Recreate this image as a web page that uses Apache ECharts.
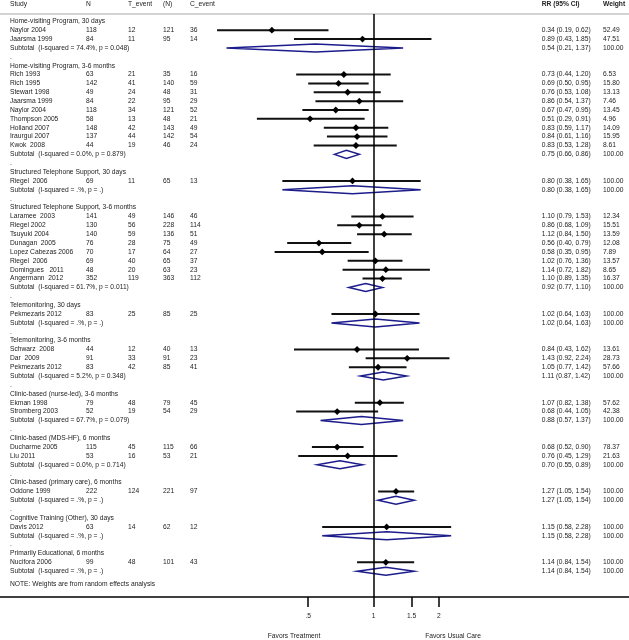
<!DOCTYPE html>
<html>
<head>
<meta charset="utf-8">
<script src="https://cdn.jsdelivr.net/npm/echarts@6/dist/echarts.min.js"></script>
<style>
  html, body { margin: 0; padding: 0; background: #fff; }
  #chart { width: 629px; height: 640px; }
</style>
</head>
<body>
<div id="chart"></div>
<script>
// ---- data ----
const groupNames = [
  'Home-visiting Program, 30 days',
  'Home-visiting Program, 3-6 months',
  'Structured Telephone Support, 30 days',
  'Structured Telephone Support, 3-6 months',
  'Telemonitoring, 30 days',
  'Telemonitoring, 3-6 months',
  'Clinic-based (nurse-led), 3-6 months',
  'Clinic-based (MDS-HF), 6 months',
  'Clinic-based (primary care), 6 months',
  'Cognitive Training (Other), 30 days',
  'Primarily Educational, 6 months'
];
const groupSize = [2, 9, 1, 8, 1, 3, 2, 2, 1, 1, 1];

const studyNames = [
  'Naylor 2004', 'Jaarsma 1999',
  'Rich 1993', 'Rich 1995', 'Stewart 1998', 'Jaarsma 1999', 'Naylor 2004', 'Thompson 2005', 'Holland 2007', 'Iraurgui 2007', 'Kwok  2008',
  'Riegel  2006',
  'Laramee  2003', 'Riegel 2002', 'Tsuyuki 2004', 'Dunagan  2005', 'Lopez Cabezas 2006', 'Riegel  2006', 'Domingues   2011', 'Angermann  2012',
  'Pekmezaris 2012',
  'Schwarz  2008', 'Dar  2009', 'Pekmezaris 2012',
  'Ekman 1998', 'Stromberg 2003',
  'Ducharme 2005', 'Liu 2011',
  'Oddone 1999',
  'Davis 2012',
  'Nucifora 2006'
];
const treatN      = [118, 84, 63, 142, 49, 84, 118, 58, 148, 137, 44, 69, 141, 130, 140, 76, 70, 69, 48, 352, 83, 44, 91, 83, 79, 52, 115, 53, 222, 63, 99];
const treatEvents = [12, 11, 21, 41, 24, 22, 34, 13, 42, 44, 19, 11, 49, 56, 59, 28, 17, 40, 20, 119, 25, 12, 33, 42, 48, 19, 45, 16, 124, 14, 48];
const ctrlN       = [121, 95, 35, 140, 48, 95, 121, 48, 143, 142, 46, 65, 146, 228, 136, 75, 64, 65, 63, 363, 85, 40, 91, 85, 79, 54, 115, 53, 221, 62, 101];
const ctrlEvents  = [36, 14, 16, 59, 31, 29, 52, 21, 49, 54, 24, 13, 46, 114, 51, 49, 27, 37, 23, 112, 25, 13, 23, 41, 45, 29, 66, 21, 97, 12, 43];
const rr     = [0.34, 0.89, 0.73, 0.69, 0.76, 0.86, 0.67, 0.51, 0.83, 0.84, 0.83, 0.80, 1.10, 0.86, 1.12, 0.56, 0.58, 1.02, 1.14, 1.10, 1.02, 0.84, 1.43, 1.05, 1.07, 0.68, 0.68, 0.76, 1.27, 1.15, 1.14];
const rrLow  = [0.19, 0.43, 0.44, 0.50, 0.53, 0.54, 0.47, 0.29, 0.59, 0.61, 0.53, 0.38, 0.79, 0.68, 0.84, 0.40, 0.35, 0.76, 0.72, 0.89, 0.64, 0.43, 0.92, 0.77, 0.82, 0.44, 0.52, 0.45, 1.05, 0.58, 0.84];
const rrHigh = [0.62, 1.85, 1.20, 0.95, 1.08, 1.37, 0.95, 0.91, 1.17, 1.16, 1.28, 1.65, 1.53, 1.09, 1.50, 0.79, 0.95, 1.36, 1.82, 1.35, 1.63, 1.62, 2.24, 1.42, 1.38, 1.05, 0.90, 1.29, 1.54, 2.28, 1.54];
const weights = [52.49, 47.51, 6.53, 15.80, 13.13, 7.46, 13.45, 4.96, 14.09, 15.95, 8.61, 100, 12.34, 15.51, 13.59, 12.08, 7.89, 13.57, 8.65, 16.37, 100, 13.61, 28.73, 57.66, 57.62, 42.38, 78.37, 21.63, 100, 100, 100];

// subtotals, one per group
const subISq  = ['74.4', '0.0', '.', '61.7', '.', '5.2', '67.7', '0.0', '.', '.', '.'];
const subP    = ['0.048', '0.879', '.', '0.011', '.', '0.348', '0.079', '0.714', '.', '.', '.'];
const subRR   = [0.54, 0.75, 0.80, 0.92, 1.02, 1.11, 0.88, 0.70, 1.27, 1.15, 1.14];
const subLow  = [0.21, 0.66, 0.38, 0.77, 0.64, 0.87, 0.57, 0.55, 1.05, 0.58, 0.84];
const subHigh = [1.37, 0.86, 1.65, 1.10, 1.63, 1.42, 1.37, 0.89, 1.54, 2.28, 1.54];

const headerLabels = ['Study', 'N', 'T_event', '(N)', 'C_event', 'RR (95% CI)', 'Weight'];
const tickValues = [0.5, 1, 1.5, 2];
const tickLabels = ['.5', '1', '1.5', '2'];
const noteText = 'NOTE: Weights are from random effects analysis';

// ---- layout ----
const W = 629;
const rowTop = 21.3, rowStep = 8.87;   // y of first row, row pitch
const gridTop = 14, axisY = 597;
const refX = 373.5, pxPerLn = 94.2;    // pixel of RR=1, pixels per ln unit
const colX = [10, 86, 128, 163, 190, 541.7, 603];
const FONT = '6.7px "Liberation Sans", Arial, sans-serif';
const TXT = '#222';
const NAVY = '#1c1c8c';

// build the table rows
const rows = [];
let si = 0;
groupNames.forEach((g, gi) => {
  if (gi > 0) rows.push({ kind: 'gap' });
  rows.push({ kind: 'group', gi });
  for (let k = 0; k < groupSize[gi]; k++) rows.push({ kind: 'study', i: si++ });
  rows.push({ kind: 'sub', gi });
});
const notePos = rows.length + 1.5;

const f2 = v => v.toFixed(2);
function rowCells(r) {
  if (r.kind === 'gap') return ['.'];
  if (r.kind === 'group') return [groupNames[r.gi]];
  if (r.kind === 'study') {
    const i = r.i;
    return [studyNames[i], String(treatN[i]), String(treatEvents[i]), String(ctrlN[i]), String(ctrlEvents[i]),
      f2(rr[i]) + ' (' + f2(rrLow[i]) + ', ' + f2(rrHigh[i]) + ')', f2(weights[i])];
  }
  const g = r.gi;
  return ['Subtotal  (I-squared = ' + subISq[g] + '%, p = ' + subP[g] + ')', '', '', '', '',
    f2(subRR[g]) + ' (' + f2(subLow[g]) + ', ' + f2(subHigh[g]) + ')', '100.00'];
}

const textData = rows.map((r, k) => [0, k + 1, k]);
textData.push([0, notePos, -1]);

const studyData = [];
const subData = [];
rows.forEach((r, k) => {
  if (r.kind === 'study') studyData.push([rr[r.i], k + 1, rrLow[r.i], rrHigh[r.i]]);
  if (r.kind === 'sub') subData.push([subRR[r.gi], k + 1, subLow[r.gi], subHigh[r.gi]]);
});

const chart = echarts.init(document.getElementById('chart'), null, { renderer: 'canvas' });

const option = {
  animation: false,
  grid: { left: 0, right: 0, top: gridTop, bottom: 640 - axisY },
  xAxis: [
    {
      type: 'log',
      min: Math.exp((0 - refX) / pxPerLn),
      max: Math.exp((W - refX) / pxPerLn),
      splitLine: { show: false },
      minorTick: { show: false },
      axisLine: { show: true, lineStyle: { color: '#000', width: 1.5 } },
      axisTick: { show: true, length: 10, lineStyle: { color: '#000', width: 1.5 }, customValues: tickValues },
      axisLabel: {
        customValues: tickValues,
        margin: 16,
        color: TXT,
        fontSize: 6.7,
        fontFamily: '"Liberation Sans", Arial, sans-serif',
        formatter: v => {
          let best = 0;
          tickValues.forEach((t, j) => { if (Math.abs(t - v) < Math.abs(tickValues[best] - v)) best = j; });
          return tickLabels[best];
        }
      }
    },
    { type: 'value', min: 0, max: W, show: false }
  ],
  yAxis: {
    type: 'value',
    inverse: true,
    min: 1 + (gridTop - rowTop) / rowStep,
    max: 1 + (axisY - rowTop) / rowStep,
    show: false
  },
  graphic: [
    { type: 'line', shape: { x1: 0, y1: gridTop, x2: W, y2: gridTop }, style: { stroke: '#c4c4c4', lineWidth: 1.5 }, z: 1 },
    ...headerLabels.map((t, j) => ({
      type: 'text', x: colX[j], y: 4.5,
      style: { text: t, font: (j >= 5 ? 'bold ' : '') + FONT, fill: TXT, verticalAlign: 'middle' }
    })),
    { type: 'text', x: 294, y: 636.5, style: { text: 'Favors Treatment', font: FONT, fill: TXT, align: 'center', verticalAlign: 'middle' } },
    { type: 'text', x: 453, y: 636.5, style: { text: 'Favors Usual Care', font: FONT, fill: TXT, align: 'center', verticalAlign: 'middle' } }
  ],
  series: [
    {
      // table text
      type: 'custom',
      xAxisIndex: 1,
      yAxisIndex: 0,
      silent: true,
      clip: false,
      data: textData,
      renderItem: (params, api) => {
        const k = api.value(2);
        const cells = k < 0 ? [noteText] : rowCells(rows[k]);
        const y = api.coord([0, api.value(1)])[1];
        return {
          type: 'group',
          children: cells.map((t, j) => ({
            type: 'text',
            style: { text: t, x: api.coord([colX[j], 0])[0], y: y, font: FONT, fill: TXT, verticalAlign: 'middle' }
          }))
        };
      }
    },
    {
      // individual studies: CI line + diamond marker
      type: 'custom',
      xAxisIndex: 0,
      yAxisIndex: 0,
      silent: true,
      clip: false,
      z: 3,
      encode: { x: [0, 2, 3], y: 1 },
      data: studyData,
      renderItem: (params, api) => {
        const c = api.coord([api.value(0), api.value(1)]);
        const a = api.coord([api.value(2), api.value(1)]);
        const b = api.coord([api.value(3), api.value(1)]);
        const r = 3.4;
        return {
          type: 'group',
          children: [
            { type: 'line', shape: { x1: a[0], y1: a[1], x2: b[0], y2: b[1] }, style: { stroke: '#111', lineWidth: 2 } },
            { type: 'polygon', shape: { points: [[c[0] - r, c[1]], [c[0], c[1] - r], [c[0] + r, c[1]], [c[0], c[1] + r]] }, style: { fill: '#000' } }
          ]
        };
      }
    },
    {
      // subtotal diamonds
      type: 'custom',
      xAxisIndex: 0,
      yAxisIndex: 0,
      silent: true,
      clip: false,
      z: 3,
      encode: { x: [0, 2, 3], y: 1 },
      data: subData,
      renderItem: (params, api) => {
        const c = api.coord([api.value(0), api.value(1)]);
        const a = api.coord([api.value(2), api.value(1)]);
        const b = api.coord([api.value(3), api.value(1)]);
        const h = 4;
        return {
          type: 'polygon',
          shape: { points: [[a[0], c[1]], [c[0], c[1] - h], [b[0], c[1]], [c[0], c[1] + h]] },
          style: { fill: 'none', stroke: NAVY, lineWidth: 1.5 }
        };
      },
      markLine: {
        silent: true,
        symbol: 'none',
        z: 10,
        label: { show: false },
        lineStyle: { color: '#000', width: 1.5, type: 'solid' },
        data: [{ xAxis: 1 }]
      }
    }
  ]
};

chart.setOption(option);
</script>
</body>
</html>
